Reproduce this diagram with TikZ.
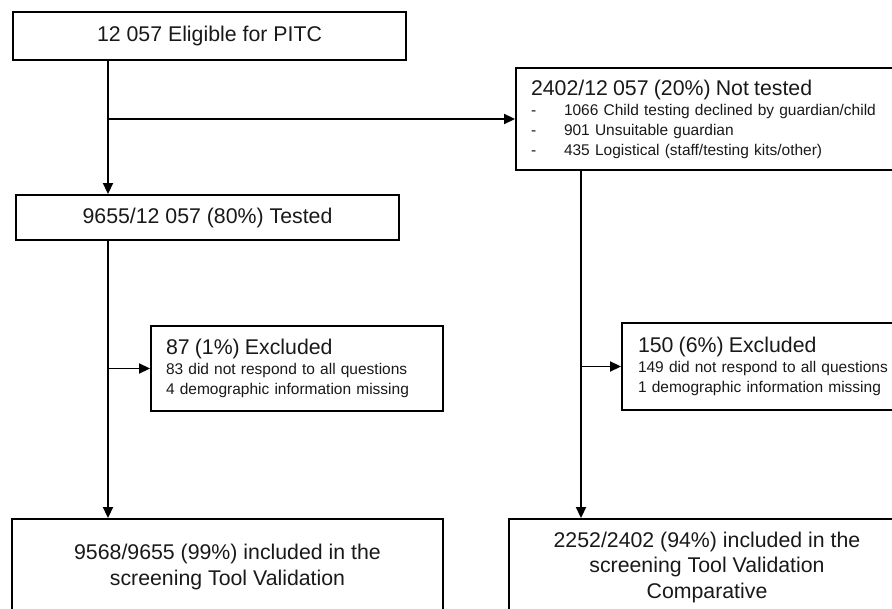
\documentclass[tikz,border=0pt]{standalone}
\usepackage{fontspec}
\setmainfont{Liberation Sans}
\usepackage{tikz}
\usetikzlibrary{arrows.meta,calc,positioning}

\begin{document}
\begin{tikzpicture}[x=1pt,y=-1pt,
  kasten/.style={draw,rectangle,line width=1.9pt,inner sep=0pt,text=black!90},
  gross/.style={align=center,font=\fontsize{21.3}{25.5}\selectfont},
  liste/.style={align=left,inner xsep=15pt,inner ysep=0pt,font=\fontsize{15.5}{20}\selectfont},
  pfeil/.style={line width=1.9pt,-{Triangle[length=11pt,width=10pt]}}]
\useasboundingbox (0,0) rectangle (892,609);
\clip (0,0) rectangle (892,609);
%Senkrechte Linien: links unter "Tested", rechts unter "Not tested"
  \pgfmathsetmacro{\xL}{108}
  \pgfmathsetmacro{\xR}{581}
\coordinate (spalteL) at (\xL,0);
\coordinate (spalteR) at (\xR,0);
%Kaesten (rechte Kaesten ragen ueber den Rand hinaus)
\node[kasten,gross,minimum width=393pt,minimum height=48pt] (elig) at (209.5,36) {12 057 Eligible for PITC};
\node[kasten,gross,minimum width=383pt,minimum height=45pt] (tested) at (207.5,217.5) {9655/12 057 (80\%) Tested};
\node[kasten,liste,text width=359pt,minimum height=102pt] (nottested) at (710.5,119) {%
{\fontsize{21.3}{20}\selectfont 2402/12 057 (20\%) Not tested}\\
\makebox[33pt][l]{-}1066 Child testing declined by guardian/child\\
\makebox[33pt][l]{-}901 Unsuitable guardian\\
\makebox[33pt][l]{-}435 Logistical (staff/testing kits/other)};
\node[kasten,liste,text width=262pt,minimum height=85pt] (exclL) at (297,368.5) {%
{\fontsize{21.3}{20}\selectfont 87 (1\%) Excluded}\\
83 did not respond to all questions\\
4 demographic information missing};
\node[kasten,liste,inner xsep=16pt,text width=290pt,minimum height=87pt] (exclR) at (783,366.5) {%
{\fontsize{21.3}{20}\selectfont 150 (6\%) Excluded}\\
149 did not respond to all questions\\
1 demographic information missing};
\node[kasten,gross,minimum width=431pt,minimum height=96pt] (inclL) at (227.5,567) {9568/9655 (99\%) included in the\\screening Tool Validation};
\node[kasten,gross,minimum width=396pt,minimum height=96pt] (inclR) at (707,567) {2252/2402 (94\%) included in the\\screening Tool Validation\\Comparative};
%Pfeile
\draw[pfeil] (spalteL |- elig.south) -- (spalteL |- tested.north);
\draw[pfeil] (spalteL |- nottested.west) -- (nottested.west);
\draw[pfeil] (spalteL |- tested.south) -- (spalteL |- inclL.north);
\draw[pfeil] (spalteL |- exclL.west) -- (exclL.west);
\draw[pfeil] (spalteR |- nottested.south) -- (spalteR |- inclR.north);
\draw[pfeil] (spalteR |- exclR.west) -- (exclR.west);
\end{tikzpicture}
\end{document}
